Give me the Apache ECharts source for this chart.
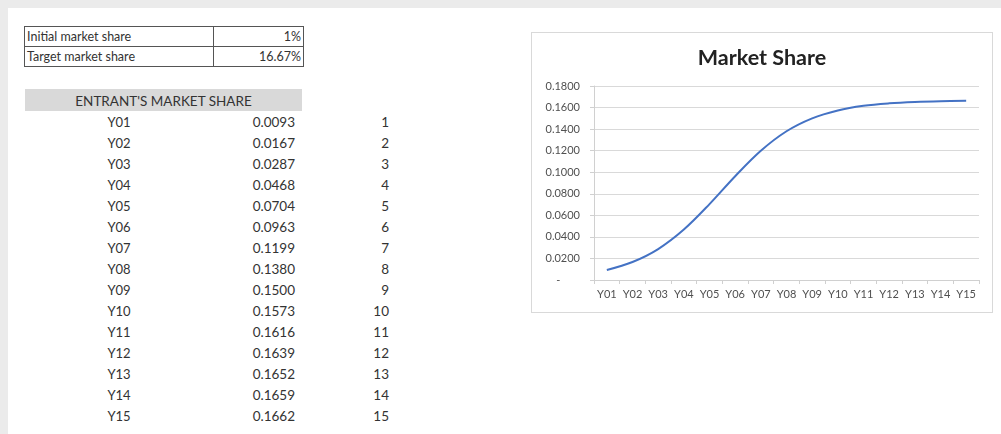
<!DOCTYPE html>
<html>
<head>
<meta charset="utf-8">
<script src="https://cdn.jsdelivr.net/npm/echarts@6/dist/echarts.min.js"></script>
<style>
  html, body { margin: 0; padding: 0; }
  body { width: 1001px; height: 434px; background: #ebebeb; position: relative; overflow: hidden; font-family: Lato, "Open Sans", sans-serif; color: #333; }
  #sheet { position: absolute; left: 8px; top: 8px; right: 0; bottom: 0; background: #fff; }
  .abs { position: absolute; white-space: nowrap; }
  #params { position: absolute; left: 24px; top: 26px; border-collapse: collapse; font-size: 12.5px; }
  #params td { border: 1px solid #555; height: 19px; padding: 0 2px; line-height: 19px; }
  #hdr { position: absolute; left: 25px; top: 89px; width: 277px; height: 22px; background: #d9d9d9; text-align: center; line-height: 24px; font-size: 13.5px; }
  #chartBox { position: absolute; left: 531px; top: 32px; width: 460px; height: 279px; border: 1.5px solid #d9d9d9; background: #fff; }
  #chart { width: 460px; height: 279px; }
</style>
</head>
<body>
<div id="sheet"></div>
<table id="params"><tbody id="paramsBody"></tbody></table>
<div id="hdr"></div>
<div id="rows"></div>
<div id="chartBox"><div id="chart"></div></div>
<script>
const paramLabels = ["Initial market share", "Target market share"];
const paramValues = ["1%", "16.67%"];
const tableTitle = "ENTRANT'S MARKET SHARE";
const categories = ["Y01","Y02","Y03","Y04","Y05","Y06","Y07","Y08","Y09","Y10","Y11","Y12","Y13","Y14","Y15"];
const shareValues = [0.0093,0.0167,0.0287,0.0468,0.0704,0.0963,0.1199,0.1380,0.1500,0.1573,0.1616,0.1639,0.1652,0.1659,0.1662];
const indexNumbers = [1,2,3,4,5,6,7,8,9,10,11,12,13,14,15];
const chartTitle = "Market Share";

// parameter table
const pb = document.getElementById('paramsBody');
paramLabels.forEach((lab, i) => {
  const tr = document.createElement('tr');
  const td1 = document.createElement('td'); td1.textContent = lab; td1.style.width = '184px';
  const td2 = document.createElement('td'); td2.textContent = paramValues[i]; td2.style.width = '85px'; td2.style.textAlign = 'right';
  tr.appendChild(td1); tr.appendChild(td2); pb.appendChild(tr);
});
document.getElementById('hdr').textContent = tableTitle;

// data rows
const rows = document.getElementById('rows');
categories.forEach((c, i) => {
  const top = 112 + 21 * i;
  const a = document.createElement('div'); a.className = 'abs';
  a.style.cssText = `left:79px;width:80px;top:${top}px;line-height:21px;text-align:center;font-size:13px;`;
  a.textContent = c; rows.appendChild(a);
  const b = document.createElement('div'); b.className = 'abs';
  b.style.cssText = `left:195px;width:100px;top:${top}px;line-height:21px;text-align:right;font-size:13.5px;`;
  b.textContent = shareValues[i].toFixed(4); rows.appendChild(b);
  const n = document.createElement('div'); n.className = 'abs';
  n.style.cssText = `left:340px;width:49px;top:${top}px;line-height:21px;text-align:right;font-size:13.5px;`;
  n.textContent = String(indexNumbers[i]); rows.appendChild(n);
});

const chart = echarts.init(document.getElementById('chart'), null, { renderer: 'canvas' });
chart.setOption({
  animation: false,
  title: {
    text: chartTitle, left: 'center', top: 9,
    textStyle: { fontFamily: 'Lato, "Open Sans", sans-serif', fontSize: 21.5, fontWeight: 'bold', color: '#222' }
  },
  grid: { left: 62, right: 13, top: 53, bottom: 32, containLabel: false },
  xAxis: {
    type: 'category', data: categories, boundaryGap: true,
    axisLine: { show: true, lineStyle: { color: '#d0d0d0', width: 1 } },
    axisTick: { show: true, length: 4, lineStyle: { color: '#d0d0d0' } },
    axisLabel: { color: '#505050', fontSize: 11, margin: 9, interval: 0, fontFamily: 'Lato, "Open Sans", sans-serif' }
  },
  yAxis: {
    type: 'value', min: 0, max: 0.18, interval: 0.02,
    axisLine: { show: true, lineStyle: { color: '#d0d0d0', width: 1 } },
    axisTick: { show: true, length: 4, lineStyle: { color: '#d0d0d0' } },
    splitLine: { show: true, lineStyle: { color: '#d9d9d9', width: 1 } },
    axisLabel: {
      color: '#505050', fontSize: 11, margin: 14, fontFamily: 'Lato, "Open Sans", sans-serif',
      formatter: v => (Math.abs(v) < 1e-9 ? '-       ' : v.toFixed(4))
    }
  },
  series: [{
    type: 'line', data: shareValues, smooth: 0.35, showSymbol: false,
    lineStyle: { color: '#4472c4', width: 2 }, itemStyle: { color: '#4472c4' }
  }]
});
</script>
</body>
</html>
